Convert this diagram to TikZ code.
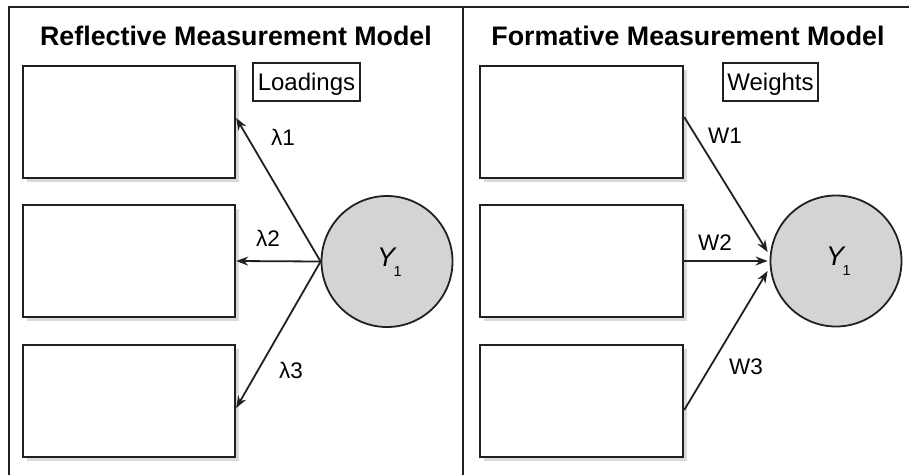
\documentclass[tikz,border=0pt]{standalone}
\usepackage{fontspec}
\setmainfont{Liberation Sans}
\usetikzlibrary{arrows.meta,calc,shadows}
\definecolor{ink}{HTML}{202020}
\definecolor{latent}{HTML}{D4D4D4}
\definecolor{shade}{HTML}{DADADA}
\begin{document}
\begin{tikzpicture}[x=1pt,y=-1pt,
  frameline/.style={draw=ink,line width=2.5pt},
  indicator/.style={draw=ink,line width=2.4pt,fill=white,inner sep=0pt,
    minimum height=112pt,
    drop shadow={shadow xshift=4pt,shadow yshift=-4pt,fill=shade,opacity=1}},
  construct/.style={circle,draw=ink,line width=1.8pt,fill=latent,minimum size=131pt,inner sep=0pt},
  heading/.style={font=\fontsize{26.8}{30}\selectfont\bfseries,anchor=base,inner sep=0pt},
  tag/.style={draw=ink,line width=1.5pt,font=\fontsize{24}{28}\selectfont,
    minimum height=38pt,inner xsep=3pt,text height=17pt,text depth=0pt},
  coef/.style={font=\fontsize{22.5}{26}\selectfont,inner sep=0pt},
  path/.style={draw=ink,line width=1.8pt,-{Stealth[length=12pt,width=9pt]}},
  ylab/.style={anchor=base west,inner sep=0pt}
]
\useasboundingbox (0,0) rectangle (909,475);

% outer frame and divider
\draw[frameline] (9,475) -- (9,7) -- (909,7);
\draw[frameline] (463,7) -- (463,475);

% ---------- reflective panel ----------
\node[heading] (rtitle) at (236,45) {Reflective Measurement Model};
\node[indicator,minimum width=212pt] (r1) at (129,122) {};
\node[indicator,minimum width=212pt] (r2) at (129,261) {};
\node[indicator,minimum width=212pt] (r3) at (129,401) {};
\node[tag,minimum width=107pt] (loadings) at (306.5,82) {Loadings};
\node[construct] (c1) at (387,261.5) {};
\node[ylab] (y1) at ($(c1.center)+(-10,4.5)$)
  {{\fontsize{27}{27}\selectfont\itshape Y}\kern-1.5pt\raisebox{-10pt}{\fontsize{14.5}{14.5}\selectfont 1}};

\draw[path] (c1.west) -- ($(r1.east)+(0,-4)$);
\draw[path] (c1.west) -- (r2.east);
\draw[path] (c1.west) -- ($(r3.east)+(0,7)$);

\node[coef] (l1) at (283,137) {λ1};
\node[coef] (l2) at (268,238) {λ2};
\node[coef] (l3) at (291,370) {λ3};

% ---------- formative panel ----------
\node[heading] (ftitle) at (688,45) {Formative Measurement Model};
\node[indicator,minimum width=203pt] (f1) at (581.5,122) {};
\node[indicator,minimum width=203pt] (f2) at (581.5,261) {};
\node[indicator,minimum width=203pt] (f3) at (581.5,401) {};
\node[tag,minimum width=95pt] (weights) at (770.5,82) {Weights};
\node[construct] (c2) at (836,261) {};
\node[ylab] (y2) at ($(c2.center)+(-10,4.5)$)
  {{\fontsize{27}{27}\selectfont\itshape Y}\kern-1.5pt\raisebox{-10pt}{\fontsize{14.5}{14.5}\selectfont 1}};

\draw[path] ($(f1.east)+(0,-5)$) -- ($(c2.west)+(-2,-9)$);
\draw[path] (f2.east) -- ($(c2.west)+(-2,0)$);
\draw[path] ($(f3.east)+(0,9)$) -- ($(c2.west)+(-2,10)$);

\node[coef] (w1) at (725,136) {W1};
\node[coef] (w2) at (715,243) {W2};
\node[coef] (w3) at (746,367) {W3};
\end{tikzpicture}
\end{document}
